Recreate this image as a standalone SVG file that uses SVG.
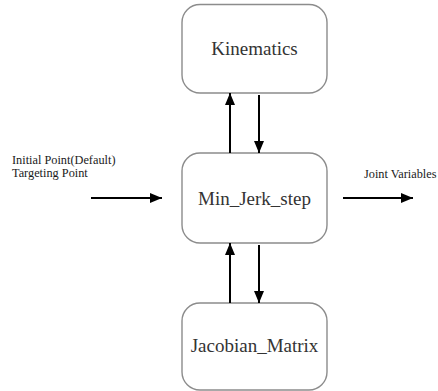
<svg xmlns="http://www.w3.org/2000/svg" width="438" height="391" viewBox="0 0 438 391">
<style>
.box{fill:#fff;stroke:#8c8c8c;stroke-width:1.4}
.lbl{font-family:"Liberation Serif","Times New Roman",serif;font-size:19px;fill:#333;text-anchor:middle}
.sm{font-family:"Liberation Serif","Times New Roman",serif;font-size:12.3px;fill:#1a1a1a}
.ar{stroke:#000;stroke-width:2;fill:none;marker-end:url(#ah)}
</style>
<defs>
<marker id="ah" markerUnits="userSpaceOnUse" markerWidth="12" markerHeight="12" viewBox="0 0 12 12" refX="12" refY="6" orient="auto">
<path d="M0,1 L12,6 L0,11 Z" fill="#000"/>
</marker>
</defs>
<rect width="438" height="391" fill="#fff"/>
<g id="kinematics">
<rect class="box" x="182" y="4.5" width="145" height="88.5" rx="18"/>
<text class="lbl" x="254.5" y="55">Kinematics</text>
</g>
<g id="min_jerk_step">
<rect class="box" x="182" y="153" width="145" height="90" rx="18"/>
<text class="lbl" x="254.5" y="205">Min_Jerk_step</text>
</g>
<g id="jacobian_matrix">
<rect class="box" x="182" y="303" width="145" height="87" rx="18"/>
<text class="lbl" x="254.5" y="352">Jacobian_Matrix</text>
</g>
<g id="input_labels">
<text class="sm" x="12" y="164">Initial Point(Default)</text>
<text class="sm" x="12" y="177">Targeting Point</text>
</g>
<g id="output_label">
<text class="sm" x="364" y="178">Joint Variables</text>
</g>
<g id="connectors">
<line class="ar" x1="230" y1="153" x2="230" y2="93"/>
<line class="ar" x1="259" y1="95" x2="259" y2="153"/>
<line class="ar" x1="230" y1="303" x2="230" y2="243"/>
<line class="ar" x1="259" y1="245" x2="259" y2="303"/>
<line class="ar" x1="91" y1="198" x2="162" y2="198"/>
<line class="ar" x1="343" y1="198" x2="413" y2="198"/>
</g>
</svg>
